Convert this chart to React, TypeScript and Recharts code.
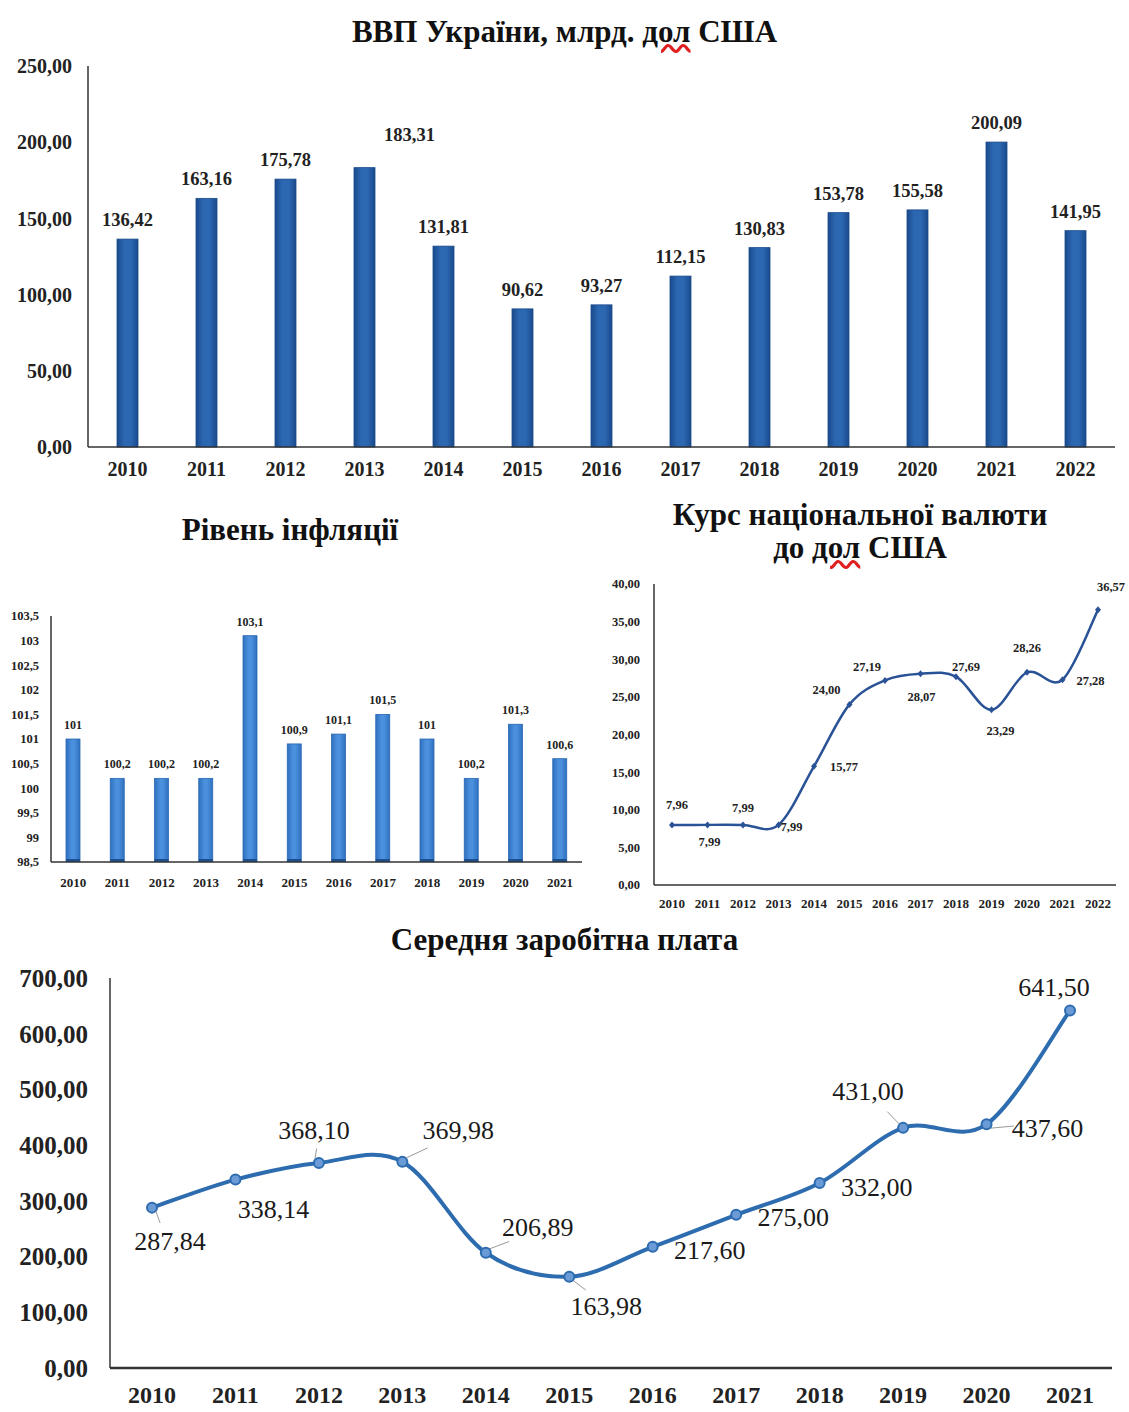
import React from "react";
import { BarChart, Bar, LineChart, Line, XAxis, YAxis } from "recharts";

const years13 = ["2010", "2011", "2012", "2013", "2014", "2015", "2016", "2017", "2018", "2019", "2020", "2021", "2022"];
const years12 = years13.slice(0, 12);

const gdp = [136.42, 163.16, 175.78, 183.31, 131.81, 90.62, 93.27, 112.15, 130.83, 153.78, 155.58, 200.09, 141.95];
const inflation = [101, 100.2, 100.2, 100.2, 103.1, 100.9, 101.1, 101.5, 101, 100.2, 101.3, 100.6];
const exchange = [7.96, 7.99, 7.99, 7.99, 15.77, 24.0, 27.19, 28.07, 27.69, 23.29, 28.26, 27.28, 36.57];
const salary = [287.84, 338.14, 368.1, 369.98, 206.89, 163.98, 217.6, 275.0, 332.0, 431.0, 437.6, 641.5];

const gdpTicks = [0, 50, 100, 150, 200, 250];
const inflTicks = [98.5, 99, 99.5, 100, 100.5, 101, 101.5, 102, 102.5, 103, 103.5];
const rateTicks = [0, 5, 10, 15, 20, 25, 30, 35, 40];
const salaryTicks = [0, 100, 200, 300, 400, 500, 600, 700];

const serif = '"Liberation Serif", "Times New Roman", serif';
const fmt2 = (v: number) => v.toFixed(2).replace(".", ",");
const fmt1 = (v: number) => String(v).replace(".", ",");

// where the value labels sit relative to their point (dx, dy, leader line)
const rateLabelPos: [number, number][] = [
  [5, -20], [2, 17], [0, -17], [13, 2], [30, 1], [-23, -14], [-18, -13],
  [1, 23], [10, -10], [9, 21], [0, -24], [28, 1], [13, -23],
];
const salaryLabelPos: [number, number, boolean][] = [
  [18, 34, true], [38, 30, false], [-5, -32, true], [56, -31, true], [52, -25, true],
  [37, 30, true], [57, 4, false], [57, 3, false], [57, 4, false], [-35, -36, true],
  [61, 4, true], [-16, -23, false],
];

// Excel-like smoothing (Catmull-Rom through the points)
function smoothCurve(context: any) {
  let pts: number[][] = [];
  return {
    areaStart() {},
    areaEnd() {},
    lineStart() {
      pts = [];
    },
    point(x: number, y: number) {
      pts.push([+x, +y]);
    },
    lineEnd() {
      if (!pts.length) return;
      context.moveTo(pts[0][0], pts[0][1]);
      for (let i = 0; i < pts.length - 1; i++) {
        const p0 = pts[i - 1] || pts[i];
        const p1 = pts[i];
        const p2 = pts[i + 1];
        const p3 = pts[i + 2] || p2;
        context.bezierCurveTo(
          p1[0] + (p2[0] - p0[0]) / 6,
          p1[1] + (p2[1] - p0[1]) / 6,
          p2[0] - (p3[0] - p1[0]) / 6,
          p2[1] - (p3[1] - p1[1]) / 6,
          p2[0],
          p2[1]
        );
      }
    },
  };
}

const titleStyle: React.CSSProperties = {
  position: "absolute",
  fontFamily: serif,
  fontWeight: 700,
  fontSize: 31,
  color: "#111",
  textAlign: "center",
  whiteSpace: "nowrap",
  lineHeight: "37px",
};

const squiggle: React.CSSProperties = {
  textDecorationLine: "underline",
  textDecorationStyle: "wavy",
  textDecorationColor: "#e02020",
};

function GdpBar(props: any) {
  const { x, y, width, height, index } = props;
  const extra = index === 3 ? { dx: 45, dy: -14 } : { dx: 0, dy: 0 };
  return (
    <g>
      <rect x={x} y={y} width={width} height={height} fill="url(#gdpFill)" stroke="#1a4a8a" strokeWidth={0.8} />
      <text
        x={x + width / 2 + extra.dx}
        y={y - 19 + extra.dy}
        textAnchor="middle"
        dominantBaseline="central"
        fontFamily={serif}
        fontWeight={700}
        fontSize={18.5}
        fill="#222"
      >
        {fmt2(gdp[index])}
      </text>
    </g>
  );
}

function InflBar(props: any) {
  const { x, y, width, height, index } = props;
  return (
    <g>
      <rect x={x} y={y} width={width} height={height} fill="url(#inflFill)" stroke="#2a68b4" strokeWidth={0.8} />
      <rect x={x} y={y + height - 3} width={width} height={3} fill="#1c4f8f" />
      <text
        x={x + width / 2}
        y={y - 14}
        textAnchor="middle"
        dominantBaseline="central"
        fontFamily={serif}
        fontWeight={700}
        fontSize={12}
        fill="#222"
      >
        {fmt1(inflation[index])}
      </text>
    </g>
  );
}

function RateDot(props: any) {
  const { cx, cy, index } = props;
  const [dx, dy] = rateLabelPos[index];
  return (
    <g key={`rd-${index}`}>
      <path d={`M${cx},${cy - 3.5} L${cx + 3},${cy} L${cx},${cy + 3.5} L${cx - 3},${cy} Z`} fill="#2a5296" />
      <text
        x={cx + dx}
        y={cy + dy}
        textAnchor="middle"
        dominantBaseline="central"
        fontFamily={serif}
        fontWeight={700}
        fontSize={12.5}
        fill="#222"
      >
        {fmt2(exchange[index])}
      </text>
    </g>
  );
}

function SalaryDot(props: any) {
  const { cx, cy, index } = props;
  const [dx, dy, leader] = salaryLabelPos[index];
  const lx = cx + dx * 0.45;
  const ly = cy + dy * 0.45;
  return (
    <g key={`sd-${index}`}>
      {leader && <line x1={cx + Math.sign(dx) * 4} y1={cy + Math.sign(dy) * 4} x2={lx} y2={ly} stroke="#999" strokeWidth={1} />}
      <circle cx={cx} cy={cy} r={5} fill="#6b9bd6" stroke="#2e6cb0" strokeWidth={2} />
      <text
        x={cx + dx}
        y={cy + dy}
        textAnchor="middle"
        dominantBaseline="central"
        fontFamily={serif}
        fontSize={26}
        fill="#1a1a1a"
      >
        {fmt2(salary[index])}
      </text>
    </g>
  );
}

export default function App() {
  const gdpData = years13.map((year, i) => ({ year, gdp: gdp[i] }));
  const inflData = years12.map((year, i) => ({ year, inflation: inflation[i] }));
  const rateData = years13.map((year, i) => ({ year, rate: exchange[i] }));
  const salaryData = years12.map((year, i) => ({ year, salary: salary[i] }));

  const axisTick = (size: number) => ({ fontSize: size, fontWeight: 700, fill: "#222", fontFamily: serif });

  return (
    <div style={{ position: "absolute", left: 0, top: 0, width: 1129, height: 1412, background: "#fff", overflow: "hidden" }}>
      <svg width={0} height={0} style={{ position: "absolute" }}>
        <defs>
          <linearGradient id="gdpFill" x1="0" y1="0" x2="1" y2="0">
            <stop offset="0%" stopColor="#1a4a8c" />
            <stop offset="35%" stopColor="#2c68b2" />
            <stop offset="65%" stopColor="#2c68b2" />
            <stop offset="100%" stopColor="#1a4a8c" />
          </linearGradient>
          <linearGradient id="inflFill" x1="0" y1="0" x2="1" y2="0">
            <stop offset="0%" stopColor="#2f70bf" />
            <stop offset="40%" stopColor="#4a90dc" />
            <stop offset="60%" stopColor="#4a90dc" />
            <stop offset="100%" stopColor="#2f70bf" />
          </linearGradient>
        </defs>
      </svg>

      {/* ВВП */}
      <div style={{ ...titleStyle, left: 0, width: 1129, top: 13 }}>
        ВВП України, млрд. <span style={squiggle}>дол</span> США
      </div>
      <div style={{ position: "absolute", left: 0, top: 50 }}>
        <BarChart width={1129} height={440} data={gdpData} margin={{ top: 16, right: 14, bottom: 8, left: 0 }}>
          <XAxis
            dataKey="year"
            interval={0}
            axisLine={{ stroke: "#333", strokeWidth: 1.5 }}
            tickLine={false}
            tickSize={0}
            tickMargin={15}
            height={35}
            tick={axisTick(20)}
          />
          <YAxis
            domain={[0, 250]}
            ticks={gdpTicks}
            interval={0}
            width={88}
            axisLine={{ stroke: "#333", strokeWidth: 1.5 }}
            tickLine={false}
            tickSize={0}
            tickMargin={16}
            tick={axisTick(20)}
            tickFormatter={fmt2}
          />
          <Bar dataKey="gdp" barSize={21} shape={GdpBar} isAnimationActive={false} />
        </BarChart>
      </div>

      {/* Інфляція */}
      <div style={{ ...titleStyle, left: 0, width: 580, top: 511 }}>Рівень інфляції</div>
      <div style={{ position: "absolute", left: 0, top: 580 }}>
        <BarChart width={600} height={320} data={inflData} margin={{ top: 36, right: 18, bottom: 8, left: 0 }}>
          <XAxis
            dataKey="year"
            interval={0}
            axisLine={{ stroke: "#333", strokeWidth: 1.5 }}
            tickLine={false}
            tickSize={0}
            tickMargin={16}
            height={30}
            tick={axisTick(13)}
          />
          <YAxis
            domain={[98.5, 103.5]}
            ticks={inflTicks}
            interval={0}
            width={51}
            allowDataOverflow
            axisLine={{ stroke: "#333", strokeWidth: 1.5 }}
            tickLine={false}
            tickSize={0}
            tickMargin={12}
            tick={axisTick(12.5)}
            tickFormatter={fmt1}
          />
          <Bar dataKey="inflation" barSize={14} shape={InflBar} isAnimationActive={false} />
        </BarChart>
      </div>

      {/* Курс */}
      <div style={{ ...titleStyle, left: 590, width: 540, top: 498, lineHeight: "33px" }}>
        Курс національної валюти
        <br />
        до <span style={squiggle}>дол</span> США
      </div>
      <div style={{ position: "absolute", left: 590, top: 570 }}>
        <LineChart width={539} height={350} data={rateData} margin={{ top: 14, right: 13, bottom: 5, left: 0 }}>
          <XAxis
            dataKey="year"
            interval={0}
            padding={{ left: 18, right: 18 }}
            axisLine={{ stroke: "#333", strokeWidth: 1.5 }}
            tickLine={false}
            tickSize={0}
            tickMargin={14}
            height={30}
            tick={axisTick(13)}
          />
          <YAxis
            domain={[0, 40]}
            ticks={rateTicks}
            interval={0}
            width={64}
            axisLine={{ stroke: "#333", strokeWidth: 1.5 }}
            tickLine={false}
            tickSize={0}
            tickMargin={14}
            tick={axisTick(12.5)}
            tickFormatter={fmt2}
          />
          <Line
            dataKey="rate"
            type={smoothCurve as any}
            stroke="#2a5296"
            strokeWidth={2.5}
            dot={RateDot}
            activeDot={false}
            isAnimationActive={false}
          />
        </LineChart>
      </div>

      {/* Заробітна плата */}
      <div style={{ ...titleStyle, left: 0, width: 1129, top: 921 }}>Середня заробітна плата</div>
      <div style={{ position: "absolute", left: 0, top: 960 }}>
        <LineChart width={1129} height={452} data={salaryData} margin={{ top: 18, right: 17, bottom: 0, left: 0 }}>
          <XAxis
            dataKey="year"
            interval={0}
            padding={{ left: 42, right: 42 }}
            axisLine={{ stroke: "#333", strokeWidth: 2.5 }}
            tickLine={false}
            tickSize={0}
            tickMargin={18}
            height={44}
            tick={axisTick(24)}
          />
          <YAxis
            domain={[0, 700]}
            ticks={salaryTicks}
            interval={0}
            width={110}
            axisLine={{ stroke: "#333", strokeWidth: 1.5 }}
            tickLine={false}
            tickSize={0}
            tickMargin={22}
            tick={axisTick(25)}
            tickFormatter={fmt2}
          />
          <Line
            dataKey="salary"
            type={smoothCurve as any}
            stroke="#2e6cb0"
            strokeWidth={4}
            dot={SalaryDot}
            activeDot={false}
            isAnimationActive={false}
          />
        </LineChart>
      </div>
    </div>
  );
}
